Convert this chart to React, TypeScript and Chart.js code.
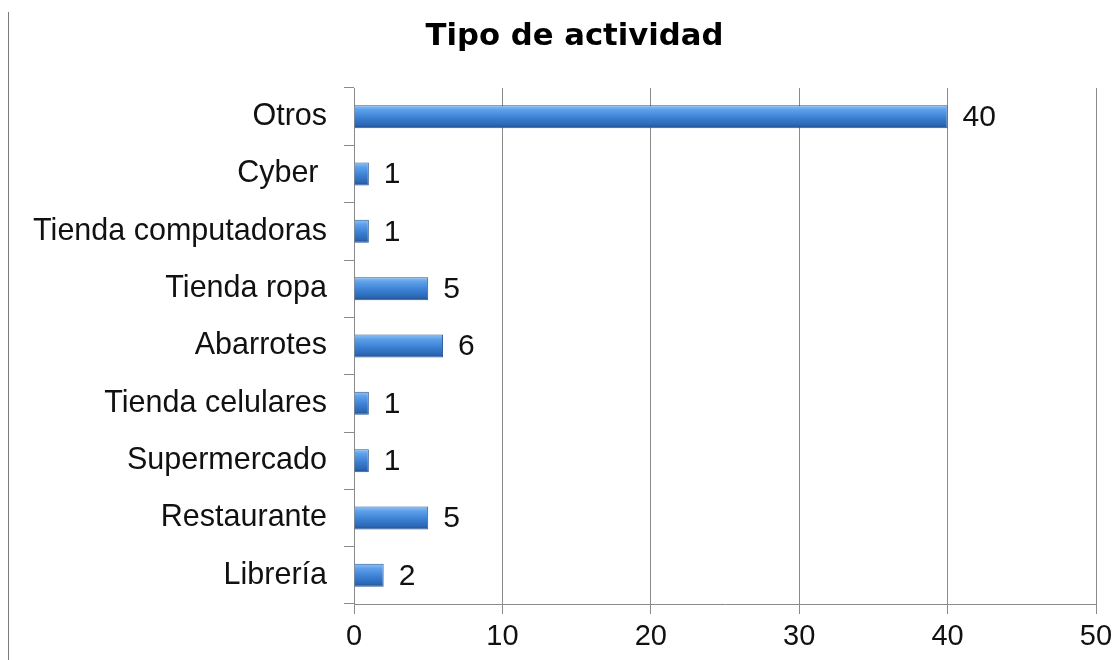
import React, { useEffect, useRef } from "react";
import { Chart, registerables } from "chart.js";

Chart.register(...registerables);

const categories = [
  "Otros",
  "Cyber ",
  "Tienda computadoras",
  "Tienda ropa",
  "Abarrotes",
  "Tienda celulares",
  "Supermercado",
  "Restaurante",
  "Librería",
];
const values = [40, 1, 1, 5, 6, 1, 1, 5, 2];
const xTicks = [0, 10, 20, 30, 40, 50];
const titleText = "Tipo de actividad";

const valueLabels = {
  id: "valueLabels",
  afterDatasetsDraw(chart: any) {
    const ctx = chart.ctx;
    const meta = chart.getDatasetMeta(0);
    ctx.save();
    ctx.font = "30px 'Liberation Sans', Arial, sans-serif";
    ctx.fillStyle = "#111";
    ctx.textAlign = "left";
    ctx.textBaseline = "middle";
    meta.data.forEach((el: any, i: number) => {
      ctx.fillText(String(values[i]), el.x + 15, el.y + 1);
    });
    ctx.restore();
  },
};

const titleDraw = {
  id: "titleDraw",
  afterDraw(chart: any) {
    const ctx = chart.ctx;
    ctx.save();
    ctx.font = "bold 30.7px 'DejaVu Sans', sans-serif";
    ctx.fillStyle = "#000";
    ctx.textAlign = "center";
    ctx.textBaseline = "alphabetic";
    ctx.fillText(titleText, 574.5, 45);
    ctx.restore();
  },
};

export default function App() {
  const ref = useRef<HTMLCanvasElement>(null);
  useEffect(() => {
    if (!ref.current) return;
    const chart = new Chart(ref.current, {
      type: "bar",
      data: {
        labels: categories,
        datasets: [
          {
            data: values,
            barPercentage: 0.4,
            categoryPercentage: 1,
            backgroundColor: (c: any) => {
              const ch = c.chart;
              const ys = ch.scales && ch.scales.y;
              if (!ys || c.dataIndex === undefined) return "#3c7fd0";
              const cy = ys.getPixelForValue(c.dataIndex);
              if (!isFinite(cy)) return "#3c7fd0";
              const h = 23;
              const g = ch.ctx.createLinearGradient(0, cy - h / 2, 0, cy + h / 2);
              g.addColorStop(0, "#8cc4f5");
              g.addColorStop(0.2, "#5ea0ea");
              g.addColorStop(0.55, "#3b80d3");
              g.addColorStop(0.85, "#2d68b6");
              g.addColorStop(1, "#1f4f8c");
              return g;
            },
            borderColor: "#2a5a98",
            borderWidth: 1,
            borderSkipped: "left",
          },
        ],
      },
      options: {
        indexAxis: "y",
        responsive: false,
        animation: false,
        layout: { padding: { left: 0, right: 17, top: 88, bottom: 0 } },
        plugins: {
          legend: { display: false },
          tooltip: { enabled: false },
          title: { display: false },
        },
        scales: {
          x: {
            min: 0,
            max: 50,
            afterBuildTicks: (s: any) => {
              s.ticks = xTicks.map((v) => ({ value: v }));
            },
            afterFit: (s: any) => {
              s.height = 56;
              s.paddingRight = 0;
              s.paddingLeft = 0;
            },
            grid: {
              color: "#8a8a8a",
              lineWidth: 1,
              tickLength: 10,
              drawTicks: true,
            },
            border: { display: true, color: "#8a8a8a", width: 1 },
            ticks: {
              color: "#111",
              padding: 6,
              font: { family: "'Liberation Sans', Arial, sans-serif", size: 29 },
            },
          },
          y: {
            afterFit: (s: any) => {
              s.width = 354;
              s.paddingTop = 0;
              s.paddingBottom = 0;
            },
            grid: {
              display: true,
              drawOnChartArea: false,
              drawTicks: true,
              tickLength: 10,
              offset: true,
              color: "#8a8a8a",
            },
            border: { display: true, color: "#8a8a8a", width: 1 },
            ticks: {
              color: "#111",
              padding: 17,
              font: { family: "'Liberation Sans', Arial, sans-serif", size: 30.5 },
            },
          },
        },
      },
      plugins: [valueLabels, titleDraw],
    } as any);
    chart.update();
    return () => chart.destroy();
  }, []);

  return (
    <div
      style={{
        position: "absolute",
        left: 0,
        top: 0,
        width: 1113,
        height: 660,
        background: "#fff",
        overflow: "hidden",
      }}
    >
      <div
        style={{
          position: "absolute",
          left: 8,
          top: 12,
          width: 0,
          height: 648,
          borderLeft: "1.5px solid #7a7a7a",
        }}
      />
      <canvas ref={ref} width={1113} height={660} style={{ position: "absolute", left: 0, top: 0 }} />
    </div>
  );
}
